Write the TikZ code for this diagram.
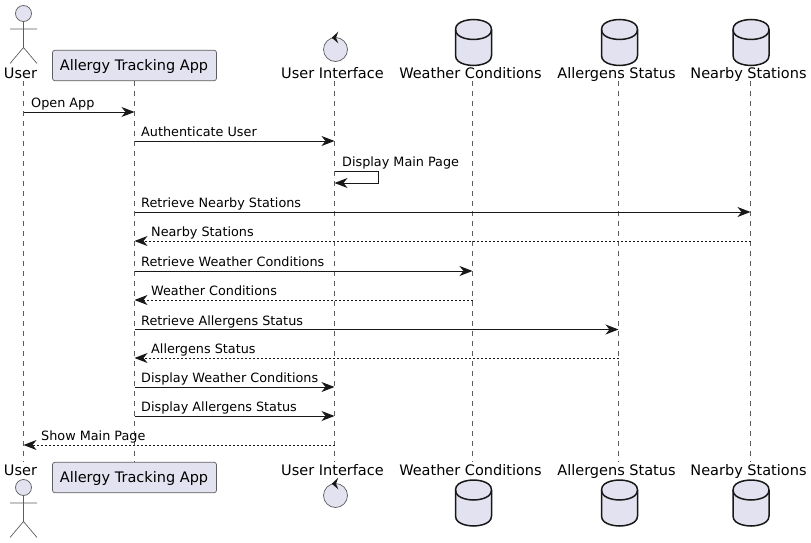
\documentclass[tikz,border=0pt]{standalone}
\usepackage{fontspec}
\setmainfont{DejaVu Sans}
\usepackage{xcolor}
\usetikzlibrary{arrows.meta}
\definecolor{partfill}{HTML}{E2E2F0}
\definecolor{partline}{HTML}{181818}
\tikzset{
  partlabel/.style={font=\fontsize{14.5}{16}\selectfont, inner sep=0pt, anchor=base},
  msglabel/.style={font=\fontsize{12.8}{15}\selectfont, inner sep=0pt, anchor=base west},
  lifeline/.style={draw=partline!70, line width=0.6pt, dash pattern=on 5pt off 5pt},
  msg/.style={draw=partline, line width=1pt, -{Stealth[length=13pt,width=10pt,inset=4pt]}},
  reply/.style={msg, dash pattern=on 2pt off 2pt},
  appbox/.style={draw=partline!70, fill=partfill, line width=0.7pt, rounded corners=2.5pt,
    minimum width=164pt, minimum height=30.5pt},
  actorpic/.pic={
    \draw[draw=partline!70, fill=partfill, line width=0.7pt] (0,0) circle (8);
    \draw[draw=partline!70, line width=0.7pt] (0,8) -- (0,34) (-13.5,15.5) -- (13.5,15.5)
      (-13.5,50) -- (0,34) -- (13.5,50);
  },
  controlpic/.pic={
    \draw[draw=partline!70, fill=partfill, line width=0.7pt] (0,0) circle (12);
    \fill[partline] (-3.8,-11.8) -- (2.8,-17.8) -- (0.5,-11.8) -- (2.8,-6.2) -- cycle;
  },
  dbpic/.pic={
    \draw[draw=partline, fill=partfill, line width=1.5pt] (0,10) .. controls (0,0) and (18,0) .. (18,0)
      .. controls (18,0) and (36,0) .. (36,10) -- (36,36) .. controls (36,46) and (18,46) .. (18,46)
      .. controls (18,46) and (0,46) .. (0,36) -- cycle;
    \draw[draw=partline, line width=1.5pt] (0,10) .. controls (0,20) and (18,20) .. (18,20)
      .. controls (18,20) and (36,20) .. (36,10);
  }
}
\begin{document}
\begin{tikzpicture}[x=1pt,y=-1pt]
  \useasboundingbox (0,0) rectangle (811,543);
  % lifelines
  \foreach \name/\x in {user/23.5,app/134.5,ui/334.5,weather/472.5,allergens/618.5,nearby/750.5}{
    \coordinate (\name T) at (\x,81);
    \coordinate (\name B) at (\x,462);
    \draw[lifeline] (\name T) -- (\name B);
  }
  % participants, top and bottom
  \node[appbox] (apptop) at (134.5,65.5) {};
  \node[appbox] (appbot) at (134.5,477.5) {};
  \node[partlabel] (appLT) at (134,70.5) {Allergy Tracking App};
  \node[partlabel] (appLB) at (134,482.5) {Allergy Tracking App};
  \foreach \name/\x/\txt in {user/20.5/User,ui/332.5/User Interface,weather/470.5/Weather Conditions,allergens/616.5/Allergens Status,nearby/748.5/Nearby Stations}{
    \node[partlabel] (\name LT) at (\x,78) {\txt};
    \node[partlabel] (\name LB) at (\x,475.5) {\txt};
  }
  \pic at (23.5,13.5) {actorpic};
  \pic at (23.5,487.5) {actorpic};
  \pic at (335.5,49.5) {controlpic};
  \pic at (335.5,495.5) {controlpic};
  \foreach \x in {455.5,601.5,733}{
    \pic at (\x,19.5) {dbpic};
    \pic at (\x,480) {dbpic};
  }
  % messages
  \foreach \i/\src/\dst/\y/\sty/\lx/\txt in {
    1/user/app/112/msg/31/Open App,
    2/app/ui/141/msg/141/Authenticate User,
    4/app/nearby/212/msg/141/Retrieve Nearby Stations,
    5/nearby/app/241/reply/151/Nearby Stations,
    6/app/weather/271/msg/141/Retrieve Weather Conditions,
    7/weather/app/300/reply/151/Weather Conditions,
    8/app/allergens/329.5/msg/141/Retrieve Allergens Status,
    9/allergens/app/358/reply/151/Allergens Status,
    10/app/ui/387/msg/141/Display Weather Conditions,
    11/app/ui/416/msg/141/Display Allergens Status,
    12/ui/user/445/reply/41/Show Main Page}{
    \coordinate (m\i a) at (\src T |- 0,\y);
    \coordinate (m\i b) at (\dst T |- 0,\y);
    \draw[\sty] (m\i a) -- (m\i b);
    \node[msglabel] (l\i) at (\lx,\y-4.5) {\txt};
  }
  % self message
  \coordinate (m3a) at (uiT |- 0,171);
  \coordinate (m3b) at (uiT |- 0,183);
  \draw[msg] (m3a) -- (378,171) -- (378,183) -- (m3b);
  \node[msglabel] (l3) at (342,166) {Display Main Page};
\end{tikzpicture}
\end{document}
